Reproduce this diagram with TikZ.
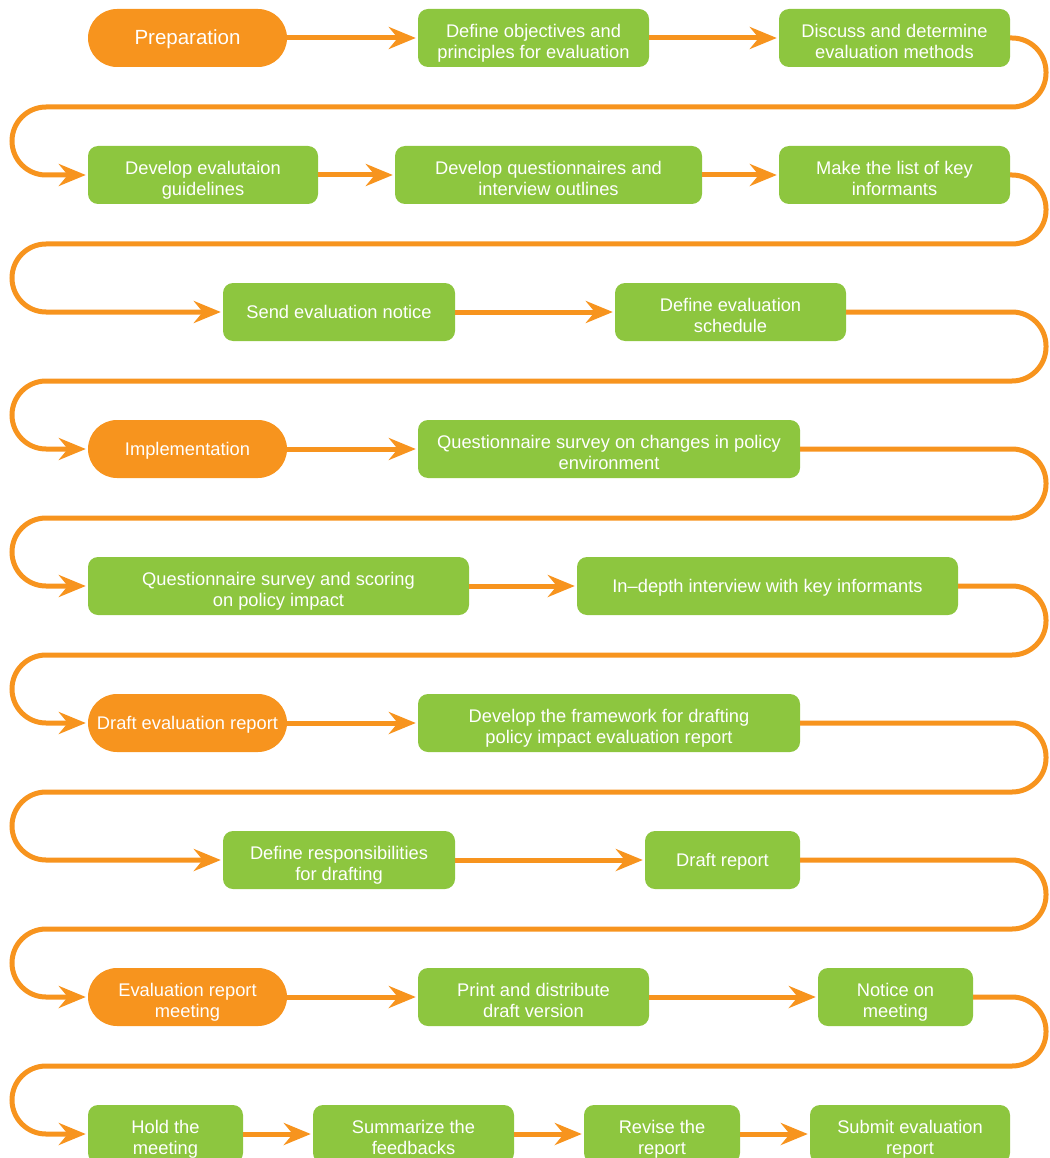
\documentclass[tikz,border=0pt]{standalone}
\usepackage{fontspec}
\setmainfont{Liberation Sans}
\usetikzlibrary{arrows.meta}
\definecolor{orng}{RGB}{247,148,30}
\definecolor{grn}{RGB}{141,198,63}
\newcommand\twol[3]{\node[txt] at ([yshift=0.5pt]#1.center) {#2};\node[txt] at ([yshift=-20.5pt]#1.center) {#3};}
\newcommand\onel[2]{\node[txt] at ([yshift=-6.5pt]#1.center) {#2};}
\begin{document}
\begin{tikzpicture}[x=1pt,y=-1pt,
  gbox/.style={fill=grn, rounded corners=10pt, inner sep=0pt, minimum height=58pt},
  obox/.style={fill=orng, rounded corners=29pt, inner sep=0pt, minimum height=58pt},
  txt/.style={text=white, inner sep=0pt, anchor=base, font=\fontsize{18.3}{21}\selectfont},
  bigtxt/.style={txt, font=\fontsize{20.5}{24}\selectfont},
  conn/.style={draw=orng, line width=5pt, shorten >=2pt, -{Stealth[length=27pt,width=22pt,inset=9pt]}},
  loopc/.style={conn, rounded corners=34pt}]
\useasboundingbox (0,0) rectangle (1049,1158);
\clip (0,0) rectangle (1049,1158);
% row 1
\node[obox, minimum width=199pt] (prep) at (187.5,38) {};
\node[gbox, minimum width=231pt] (def) at (533.5,38) {};
\node[gbox, minimum width=231pt] (disc) at (894.5,38) {};
% row 2
\node[gbox, minimum width=230pt] (dg) at (203,175) {};
\node[gbox, minimum width=307pt] (dq) at (548.5,175) {};
\node[gbox, minimum width=231pt] (ml) at (894.5,175) {};
% row 3
\node[gbox, minimum width=232pt] (sen) at (339,312) {};
\node[gbox, minimum width=231pt] (des) at (730.5,312) {};
% row 4
\node[obox, minimum width=199pt] (imp) at (187.5,449) {};
\node[gbox, minimum width=382pt] (qs) at (609,449) {};
% row 5
\node[gbox, minimum width=381pt] (qss) at (278.5,586) {};
\node[gbox, minimum width=381pt] (ind) at (767.5,586) {};
% row 6
\node[obox, minimum width=199pt] (der) at (187.5,723) {};
\node[gbox, minimum width=382pt] (dfw) at (609,723) {};
% row 7
\node[gbox, minimum width=232pt] (dr) at (339,860) {};
\node[gbox, minimum width=155pt] (dre) at (722.5,860) {};
% row 8
\node[obox, minimum width=199pt] (erm) at (187.5,997) {};
\node[gbox, minimum width=231pt] (pdd) at (533.5,997) {};
\node[gbox, minimum width=155pt] (nom) at (895.5,997) {};
% row 9
\node[gbox, minimum width=155pt] (hold) at (165.5,1134) {};
\node[gbox, minimum width=201pt] (sum) at (413.5,1134) {};
\node[gbox, minimum width=156pt] (rev) at (662,1134) {};
\node[gbox, minimum width=200pt] (sub) at (910,1134) {};
% texts
\node[bigtxt] at ([yshift=-7pt]prep.center) {Preparation};
\twol{def}{Define objectives and}{principles for evaluation}
\twol{disc}{Discuss and determine}{evaluation methods}
\twol{dg}{Develop evalutaion}{guidelines}
\twol{dq}{Develop questionnaires and}{interview outlines}
\twol{ml}{Make the list of key}{informants}
\onel{sen}{Send evaluation notice}
\twol{des}{Define evaluation}{schedule}
\onel{imp}{Implementation}
\twol{qs}{Questionnaire survey on changes in policy}{environment}
\twol{qss}{Questionnaire survey and scoring}{on policy impact}
\onel{ind}{In--depth interview with key informants}
\onel{der}{Draft evaluation report}
\twol{dfw}{Develop the framework for drafting}{policy impact evaluation report}
\twol{dr}{Define responsibilities}{for drafting}
\onel{dre}{Draft report}
\twol{erm}{Evaluation report}{meeting}
\twol{pdd}{Print and distribute}{draft version}
\twol{nom}{Notice on}{meeting}
\twol{hold}{Hold the}{meeting}
\twol{sum}{Summarize the}{feedbacks}
\twol{rev}{Revise the}{report}
\twol{sub}{Submit evaluation}{report}
% row connectors
\draw[conn] (prep.east) -- (def.west);
\draw[conn] (def.east) -- (disc.west);
\draw[conn] (dg.east) -- (dq.west);
\draw[conn] (dq.east) -- (ml.west);
\draw[conn] (sen.east) -- (des.west);
\draw[conn] (imp.east) -- (qs.west);
\draw[conn] (qss.east) -- (ind.west);
\draw[conn] (der.east) -- (dfw.west);
\draw[conn] (dr.east) -- (dre.west);
\draw[conn] (erm.east) -- (pdd.west);
\draw[conn] (pdd.east) -- (nom.west);
\draw[conn] (hold.east) -- (sum.west);
\draw[conn] (sum.east) -- (rev.west);
\draw[conn] (rev.east) -- (sub.west);
% loops between rows
\draw[loopc] (disc.east) -- (1046,38) -- (1046,107) -- (12,107) -- (12,175) -- (dg.west);
\draw[loopc] (ml.east) -- (1046,175) -- (1046,244) -- (12,244) -- (12,312) -- (sen.west);
\draw[loopc] (des.east) -- (1046,312) -- (1046,381) -- (12,381) -- (12,449) -- (imp.west);
\draw[loopc] (qs.east) -- (1046,449) -- (1046,518) -- (12,518) -- (12,586) -- (qss.west);
\draw[loopc] (ind.east) -- (1046,586) -- (1046,655) -- (12,655) -- (12,723) -- (der.west);
\draw[loopc] (dfw.east) -- (1046,723) -- (1046,792) -- (12,792) -- (12,860) -- (dr.west);
\draw[loopc] (dre.east) -- (1046,860) -- (1046,929) -- (12,929) -- (12,997) -- (erm.west);
\draw[loopc] (nom.east) -- (1046,997) -- (1046,1066) -- (12,1066) -- (12,1134) -- (hold.west);
\end{tikzpicture}
\end{document}
